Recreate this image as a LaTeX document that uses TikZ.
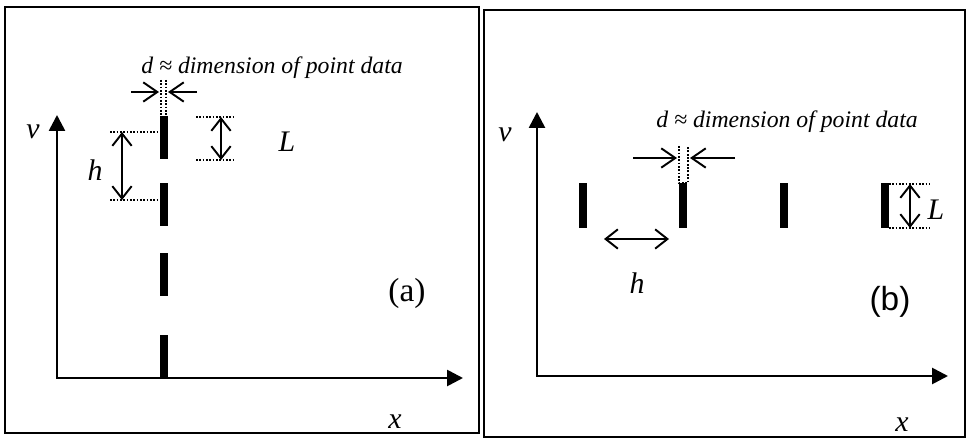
\documentclass[tikz,border=0pt]{standalone}
\usepackage{fontspec}
\setmainfont{Liberation Serif}
\setsansfont{Liberation Sans}
\usetikzlibrary{arrows.meta}
\begin{document}
\begin{tikzpicture}[x=0.02cm,y=-0.02cm,
  frame/.style={line width=1.3pt},
  axis/.style={line width=1.5pt,{Triangle[length=9pt,width=9pt]}-{Triangle[length=9pt,width=9pt]}},
  bar/.style={fill=black},
  guide/.style={line width=1pt,dash pattern=on 1pt off 0.9pt},
  dimarrow/.style={line width=1.1pt,{Straight Barb[length=7pt,width=11pt]}-{Straight Barb[length=7pt,width=11pt]}},
  inarrow/.style={line width=1.1pt,-{Straight Barb[length=8pt,width=11pt]}},
  lab/.style={font=\fontsize{17}{19}\selectfont\itshape,inner sep=0pt},
  dimtext/.style={font=\fontsize{13.5}{15}\selectfont\itshape,inner sep=0pt},
  tag/.style={font=\fontsize{19}{21}\selectfont\rmfamily,inner sep=0pt}]
\useasboundingbox (0,0) rectangle (969,442);
% (a) one column of segments
\draw[frame] (5,7) rectangle (479,433);
\draw[axis] (57,115) -- (57,378) -- (463,378);
\node[lab] (va) at (33,132) {v};
\node[lab] (xa) at (395,422) {x};
\foreach \top/\bot in {116/159,183/226,253/296,335/378}
  \fill[bar] (160,\top) rectangle (168,\bot);
\node[dimtext] (da) at (272,68) {d ≈ dimension of point data};
\draw[guide] (161,80) -- (161,116);
\draw[guide] (166,80) -- (166,116);
\draw[inarrow] (131,92) -- (159,92);
\draw[inarrow] (197,92) -- (168,92);
\draw[guide] (110,132) -- (158,132);
\draw[guide] (110,200) -- (158,200);
\draw[dimarrow] (122,132) -- (122,200);
\node[lab] (ha) at (95,170) {h};
\draw[guide] (196,117) -- (233,117);
\draw[guide] (196,160) -- (233,160);
\draw[dimarrow] (221,117) -- (221,160);
\node[lab] (La) at (287,142) {L};
\node[tag] (taga) at (407,293) {(a)};
% (b) one row of segments
\draw[frame] (484,10) rectangle (965,437);
\draw[axis] (537,112) -- (537,376) -- (948,376);
\node[lab] (vb) at (505,135) {v};
\node[lab] (xb) at (902,425) {x};
\foreach \xc in {583,683,784,885}
  \fill[bar] (\xc-4,183) rectangle (\xc+4,228);
\node[dimtext] (db) at (787,122) {d ≈ dimension of point data};
\draw[guide] (679,146) -- (679,183) -- (688,183) -- (688,146);
\draw[inarrow] (633,158) -- (677,158);
\draw[inarrow] (735,158) -- (690,158);
\draw[dimarrow] (604,239) -- (669,239);
\node[lab] (hb) at (637,283) {h};
\draw[guide] (889,184) -- (930,184);
\draw[guide] (889,228) -- (930,228);
\draw[dimarrow] (910,184) -- (910,228);
\node[lab] (Lb) at (936,210) {L};
\node[tag,font=\fontsize{19}{21}\selectfont\sffamily] (tagb) at (890,302) {(b)};
\end{tikzpicture}
\end{document}
